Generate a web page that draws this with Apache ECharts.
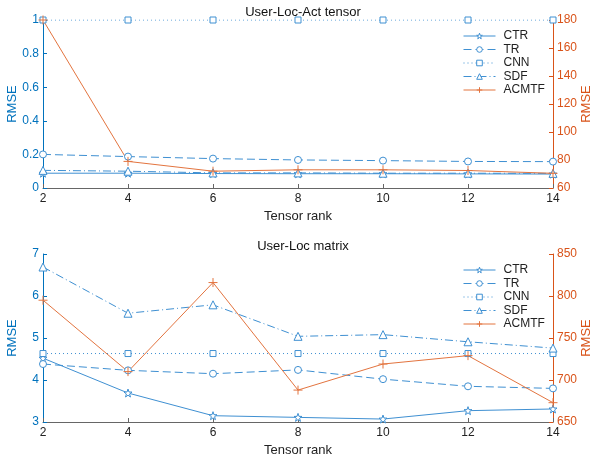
<!DOCTYPE html>
<html>
<head>
<meta charset="utf-8">
<script src="https://cdn.jsdelivr.net/npm/echarts@6/dist/echarts.min.js"></script>
<style>
  html, body { margin: 0; padding: 0; background: #fff; }
  #main { width: 590px; height: 461px; }
</style>
</head>
<body>
<div id="main"></div>
<script>
// tensor rank on the x axis
const ranks = [2, 4, 6, 8, 10, 12, 14]
const seriesNames = ["CTR", "TR", "CNN", "SDF", "ACMTF"]

// User-Loc-Act tensor (left axis: CTR..SDF, right axis: ACMTF)
const tensorCTR = [0.088, 0.088, 0.086, 0.085, 0.085, 0.084, 0.083]
const tensorTR = [0.2, 0.187, 0.175, 0.167, 0.163, 0.158, 0.157]
const tensorCNN = [1, 1, 1, 1, 1, 1, 1]
const tensorSDF = [0.105, 0.1, 0.09, 0.09, 0.088, 0.088, 0.087]
const tensorACMTF = [180, 79, 72, 73, 73, 72.5, 70.5]

// User-Loc matrix
const matrixCTR = [4.52, 3.69, 3.15, 3.11, 3.07, 3.27, 3.31]
const matrixTR = [4.38, 4.23, 4.15, 4.24, 4.02, 3.85, 3.8]
const matrixCNN = [4.63, 4.63, 4.63, 4.63, 4.63, 4.63, 4.63]
const matrixSDF = [6.69, 5.59, 5.79, 5.04, 5.08, 4.91, 4.76]
const matrixACMTF = [795, 710, 816, 688, 719, 729, 673]

const BLUE = "#0072BD"
const LINE_BLUE = "#3f90d2"
const ORANGE = "#D95319"
const LINE_ORANGE = "#e3743f"
const FONT = "Liberation Sans"

const starPath = "path://M0,-10L2.35,-3.24L9.51,-3.09L3.8,1.24L5.88,8.09L0,4L-5.88,8.09L-3.8,1.24L-9.51,-3.09L-2.35,-3.24Z"
const plusPath = "path://M0,-10L0,10M-10,0L10,0"

const styles = {
  CTR: { symbol: starPath, size: 8, type: "solid" },
  TR: { symbol: "circle", size: 7, type: [8, 4] },
  CNN: { symbol: "rect", size: 6, type: [1, 3] },
  SDF: { symbol: "triangle", size: 8, type: [8, 3, 1, 3] },
  ACMTF: { symbol: plusPath, size: 9, type: "solid" }
}

function pairs(values) {
  return ranks.map((r, i) => [r, values[i]])
}

function makeSeries(name, values, gridIdx) {
  const st = styles[name]
  const isRight = name === "ACMTF"
  const col = isRight ? LINE_ORANGE : LINE_BLUE
  return {
    name: name,
    type: "line",
    xAxisIndex: gridIdx,
    yAxisIndex: gridIdx * 2 + (isRight ? 1 : 0),
    data: pairs(values),
    symbol: st.symbol,
    symbolSize: st.size,
    showAllSymbol: true,
    lineStyle: { color: col, width: 1, type: st.type },
    itemStyle: { color: "#fff", borderColor: col, borderWidth: 1 },
    emphasis: { disabled: true },
    animation: false
  }
}

function xAxisFor(gridIdx) {
  return {
    type: "value",
    gridIndex: gridIdx,
    min: 2,
    max: 14,
    interval: 2,
    name: "Tensor rank",
    nameLocation: "middle",
    nameGap: 22,
    nameMoveOverlap: false,
    nameTextStyle: { color: "#222", fontSize: 13, fontFamily: FONT },
    axisLine: { lineStyle: { color: "#666", width: 1 } },
    axisTick: { inside: true, length: 4, lineStyle: { color: "#666" } },
    axisLabel: { color: "#222", fontSize: 12, fontFamily: FONT, margin: 5 },
    splitLine: { show: false }
  }
}

function yAxisFor(gridIdx, side, min, max, interval, color) {
  return {
    type: "value",
    gridIndex: gridIdx,
    position: side,
    min: min,
    max: max,
    interval: interval,
    name: "RMSE",
    nameLocation: "middle",
    nameRotate: 90,
    nameGap: side === "left" ? 24 : 27,
    nameMoveOverlap: false,
    nameTextStyle: { color: color, fontSize: 13, fontFamily: FONT },
    axisLine: { show: true, lineStyle: { color: color, width: 1 } },
    axisTick: { show: true, inside: true, length: 4, lineStyle: { color: color } },
    axisLabel: { color: color, fontSize: 12, fontFamily: FONT, margin: 4 },
    splitLine: { show: false }
  }
}

function legendFor(top) {
  return {
    orient: "vertical",
    left: 458,
    top: top,
    itemWidth: 32,
    itemHeight: 7,
    itemGap: 1.5,
    data: seriesNames,
    lineStyle: { width: 1 },
    itemStyle: { color: "#fff", borderWidth: 1 },
    textStyle: { color: "#222", fontSize: 12, fontFamily: FONT, padding: [0, 0, 0, 3] },
    selectedMode: false
  }
}

const option = {
  backgroundColor: "#fff",
  animation: false,
  title: [
    { text: "User-Loc-Act tensor", left: 298, top: 1, textAlign: "center",
      textStyle: { color: "#111", fontSize: 13, fontWeight: "normal", fontFamily: FONT } },
    { text: "User-Loc matrix", left: 298, top: 235, textAlign: "center",
      textStyle: { color: "#111", fontSize: 13, fontWeight: "normal", fontFamily: FONT } }
  ],
  legend: [
    Object.assign(legendFor(25), { id: "top" }),
    Object.assign(legendFor(259), { id: "bottom" })
  ],
  grid: [
    { left: 43, right: 37, top: 20, height: 168, containLabel: false, outerBoundsMode: "none" },
    { left: 43, right: 37, top: 254, height: 168, containLabel: false, outerBoundsMode: "none" }
  ],
  xAxis: [xAxisFor(0), xAxisFor(1)],
  yAxis: [
    yAxisFor(0, "left", 0, 1, 0.2, BLUE),
    yAxisFor(0, "right", 60, 180, 20, ORANGE),
    yAxisFor(1, "left", 3, 7, 1, BLUE),
    yAxisFor(1, "right", 650, 850, 50, ORANGE)
  ],
  series: [
    makeSeries("CTR", tensorCTR, 0),
    makeSeries("TR", tensorTR, 0),
    makeSeries("CNN", tensorCNN, 0),
    makeSeries("SDF", tensorSDF, 0),
    makeSeries("ACMTF", tensorACMTF, 0),
    makeSeries("CTR", matrixCTR, 1),
    makeSeries("TR", matrixTR, 1),
    makeSeries("CNN", matrixCNN, 1),
    makeSeries("SDF", matrixSDF, 1),
    makeSeries("ACMTF", matrixACMTF, 1)
  ]
}

const myChart = echarts.init(document.getElementById("main"), null, { renderer: "canvas" })
myChart.setOption(option, true)
</script>
</body>
</html>
